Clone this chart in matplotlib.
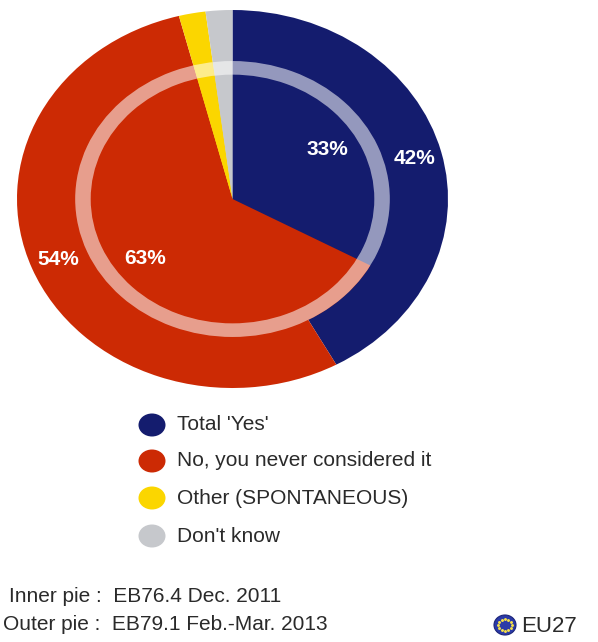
import matplotlib
matplotlib.use("Agg")
import matplotlib.pyplot as plt
from matplotlib.patches import Ellipse, Wedge
import numpy as np

plt.rcParams['font.family'] = ['Liberation Sans', 'DejaVu Sans']

# Survey answers (share of respondents, %)
categories = ["Total 'Yes'", "No, you never considered it",
              "Other (SPONTANEOUS)", "Don't know"]
outer_values = [42, 54, 2, 2]   # EB79.1 Feb.-Mar. 2013
inner_values = [33, 63, 2, 2]   # EB76.4 Dec. 2011
colors = ["#141c6e", "#cc2a04", "#fbd600", "#c6c8cc"]

inner_note = "Inner pie :  EB76.4 Dec. 2011"
outer_note = "Outer pie :  EB79.1 Feb.-Mar. 2013"
region_label = "EU27"

W, H = 598, 642
fig = plt.figure(figsize=(W / 100, H / 100), dpi=100)

# Pie axes (non-equal aspect gives the oval shape)
ax = fig.add_axes([17 / W, 1 - 388 / H, 431 / W, 378 / H])


def pct_label(p):
    return f"{p:.0f}%" if p > 10 else ""


txt_kw = dict(color="white", fontsize=15, fontweight="bold")
inner_r = 0.73

ax.pie(outer_values, colors=colors, startangle=90, counterclock=False,
       radius=1.0, autopct=pct_label, pctdistance=0.87,
       textprops=txt_kw, wedgeprops=dict(linewidth=0), frame=True)
ax.pie(inner_values, colors=colors, startangle=90, counterclock=False,
       radius=inner_r, autopct=pct_label, pctdistance=0.70,
       textprops=txt_kw, wedgeprops=dict(linewidth=0), frame=True)

# Translucent band along the rim of the inner pie
ax.add_patch(Wedge((0, 0), inner_r, 0, 360, width=0.072,
                   facecolor="white", alpha=0.55, linewidth=0, zorder=5))
ax.set_aspect('auto')
ax.set_xlim(-1, 1)
ax.set_ylim(-1, 1)
ax.axis('off')

# Overlay axes in pixel units for legend and notes
ov = fig.add_axes([0, 0, 1, 1])
ov.set_xlim(0, W)
ov.set_ylim(H, 0)
ov.axis('off')

text_color = "#2a2a2a"
legend_y = [425, 461, 498, 536]
for lab, col, y in zip(categories, colors, legend_y):
    ov.add_patch(Ellipse((152, y), 27, 23, facecolor=col, edgecolor="none"))
    ov.text(177, y, lab, fontsize=15, color=text_color, va="center", ha="left")

ov.text(9, 596, inner_note, fontsize=15, color=text_color, va="center", ha="left")
ov.text(3, 624, outer_note, fontsize=15, color=text_color, va="center", ha="left")

# EU flag badge
fx, fy = 505, 625
ov.add_patch(Ellipse((fx, fy), 22, 20, facecolor="#2b3aa8", edgecolor="#1c2478",
                     linewidth=0.8))
ang = np.linspace(0, 2 * np.pi, 12, endpoint=False)
ov.scatter(fx + 6.8 * np.cos(ang), fy + 6.2 * np.sin(ang), s=1.2, color="#f5e04a",
           zorder=6)
ov.text(521, 626, region_label, fontsize=16, color=text_color, va="center", ha="left")

fig.savefig("out.png", dpi=100, facecolor="white")
